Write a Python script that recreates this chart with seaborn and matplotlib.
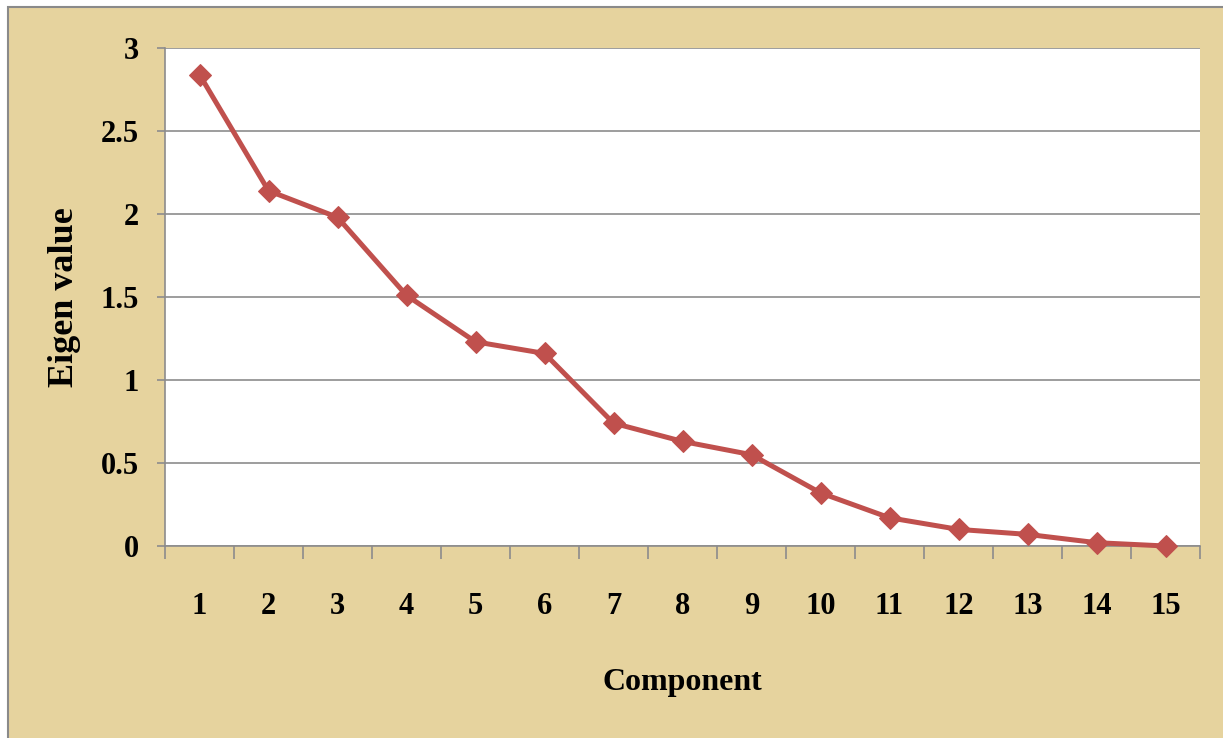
"""Scree plot: eigen value per component."""

import matplotlib

matplotlib.use("Agg")

import matplotlib.pyplot as plt
import numpy as np
import pandas as pd
import seaborn as sns
from matplotlib.patches import Rectangle

components = list(range(1, 16))
eigen_values = [2.84, 2.14, 1.98, 1.51, 1.23, 1.16, 0.74, 0.63, 0.55, 0.32, 0.17, 0.10, 0.07, 0.02, 0.0]
y_ticks = [0, 0.5, 1, 1.5, 2, 2.5, 3]
y_tick_labels = ["0", "0.5", "1", "1.5", "2", "2.5", "3"]

data = pd.DataFrame({"component": components, "eigen": eigen_values})

sns.set_style("white")
plt.rcParams["font.family"] = ["Liberation Serif", "DejaVu Serif"]
plt.rcParams["font.weight"] = "bold"
plt.rcParams["text.color"] = "black"
plt.rcParams["axes.labelcolor"] = "black"
plt.rcParams["xtick.labelcolor"] = "black"
plt.rcParams["ytick.labelcolor"] = "black"

fig = plt.figure(figsize=(12.23, 7.38), dpi=100, facecolor="white")
# parchment panel with thin grey frame
fig.patches.append(Rectangle((8 / 1223, -0.05), 1.2, 1 - 7 / 738 + 0.05,
                             transform=fig.transFigure, facecolor="#E6D39E",
                             edgecolor="#8a8a8a", linewidth=1.5, zorder=-10))

axis = fig.add_axes([165 / 1223, 1 - 546 / 738, 1035 / 1223, 498 / 738])
axis.set_facecolor("white")

sns.lineplot(data=data, x="component", y="eigen", ax=axis, color="#C0504D",
             linewidth=3.6, marker="D", markersize=11, markeredgecolor="#C0504D",
             zorder=3, clip_on=False)

axis.set_xlim(0.5, 15.5)
axis.set_ylim(0, 3)
axis.set_xticks(components)
axis.set_xticklabels([str(c) for c in components])
axis.set_xticks(np.arange(0.5, 16, 1), minor=True)
axis.set_yticks(y_ticks)
axis.set_yticklabels(y_tick_labels)

axis.grid(True, axis="y", color="#8c8c8c", linewidth=1.2)
axis.set_axisbelow(True)
for side in ["top", "right"]:
    axis.spines[side].set_visible(False)
for side in ["left", "bottom"]:
    axis.spines[side].set_color("#8c8c8c")
    axis.spines[side].set_linewidth(1.2)

axis.tick_params(axis="x", which="major", length=0, pad=33, labelsize=22, bottom=True)
axis.tick_params(axis="x", which="minor", length=9, width=1.2, color="#8c8c8c",
                 direction="out", bottom=True)
axis.tick_params(axis="y", which="major", length=6, width=1.2, color="#8c8c8c",
                 direction="out", pad=13, labelsize=22, left=True)

axis.set_xlabel("Component", fontsize=23, fontweight="bold", labelpad=34)
axis.set_ylabel("Eigen value", fontsize=26, fontweight="bold", labelpad=14)

fig.savefig("out.png", dpi=100, facecolor=fig.get_facecolor())
plt.close(fig)
